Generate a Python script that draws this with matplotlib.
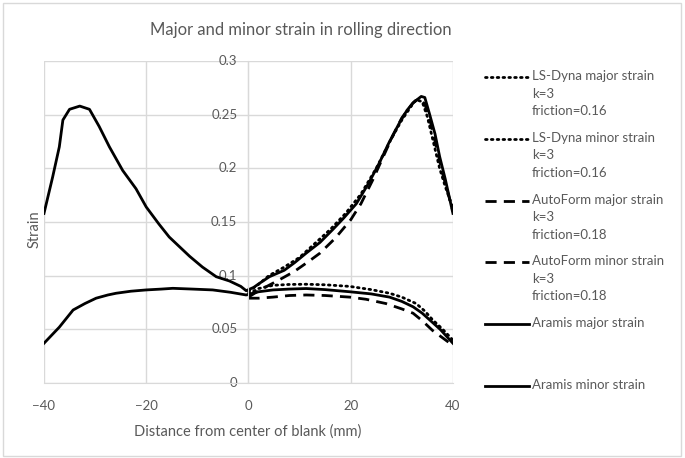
import matplotlib as mpl
mpl.use('Agg')
import matplotlib.pyplot as plt
from matplotlib.lines import Line2D
from matplotlib.patches import Rectangle

plt.rcParams['font.family'] = ['Lato', 'DejaVu Sans']

# Aramis measurement, both sides of the blank
aramis_x_major = [-40, -38.3, -37, -36.3, -35, -33, -31.1, -29.2, -27.2, -24.6, -22, -20,
                  -17.5, -15.5, -13.5, -11.5, -9, -6.3, -3.7, -1.5, -0.45, 1, 2.2, 4.1,
                  7, 9, 11.3, 14, 16.5, 18.5, 21.1, 23.5, 25.6, 27.5, 29.5, 31, 32.2, 33,
                  33.8, 34.5, 35.4, 36.5, 37.4, 38.5, 40]
aramis_major = [0.158, 0.192, 0.22, 0.245, 0.255, 0.258, 0.255, 0.239, 0.220, 0.198, 0.181,
                0.164, 0.148, 0.136, 0.127, 0.118, 0.108, 0.099, 0.095, 0.090, 0.086, 0.089,
                0.093, 0.099, 0.105, 0.112, 0.121, 0.131, 0.143, 0.153, 0.167, 0.186, 0.205,
                0.224, 0.242, 0.254, 0.261, 0.264, 0.267, 0.266, 0.251, 0.232, 0.211, 0.190,
                0.158]
aramis_x_minor = [-40, -37, -34.3, -32, -29.8, -27.5, -25.9, -23, -20, -17, -14.8, -11, -7,
                  -3.5, -0.45, 2, 4.8, 8, 11.3, 15, 19.8, 24, 27.6, 30, 32.2, 34, 35.4,
                  37.5, 40]
aramis_minor = [0.037, 0.052, 0.068, 0.074, 0.079, 0.082, 0.0836, 0.0855, 0.0867, 0.0875,
                0.0882, 0.0875, 0.0867, 0.0845, 0.082, 0.085, 0.0867, 0.0875, 0.088, 0.087,
                0.085, 0.083, 0.080, 0.076, 0.071, 0.065, 0.059, 0.050, 0.037]

# LS-Dyna simulation (k=3, friction=0.16)
lsd_x_major = [0, 2, 4, 7, 10, 13, 16, 19, 22, 25, 28, 30, 32, 32.8, 34, 35, 36, 37.4, 38.5, 40]
lsd_major = [0.085, 0.092, 0.100, 0.108, 0.117, 0.130, 0.143, 0.158, 0.176, 0.200, 0.228,
             0.245, 0.259, 0.264, 0.262, 0.248, 0.228, 0.200, 0.183, 0.163]
lsd_x_minor = [0, 2, 4.8, 8, 11.3, 15, 19.8, 24, 27.6, 30, 32.8, 34.5, 36, 38, 40]
lsd_minor = [0.083, 0.088, 0.091, 0.0918, 0.092, 0.0915, 0.090, 0.087, 0.0836, 0.080, 0.074,
             0.067, 0.059, 0.050, 0.040]

# AutoForm simulation (k=3, friction=0.18)
af_x_major = [0, 2, 4, 6, 9, 12, 14, 17, 20, 22, 24.3, 26, 28.2, 30, 32.2, 33.3, 34.5, 35.5,
              36.5, 38, 40]
af_major = [0.080, 0.086, 0.091, 0.096, 0.104, 0.114, 0.121, 0.135, 0.152, 0.167, 0.189,
            0.207, 0.230, 0.247, 0.261, 0.265, 0.260, 0.245, 0.225, 0.195, 0.160]
af_x_minor = [0, 2, 4.8, 8, 11.3, 15, 19.8, 23, 26.9, 30, 32.2, 34, 36, 38, 40]
af_minor = [0.079, 0.079, 0.080, 0.0815, 0.082, 0.0815, 0.080, 0.078, 0.074, 0.069, 0.065,
            0.058, 0.049, 0.042, 0.035]

x_ticks = [-40, -20, 0, 20, 40]
y_ticks = [0, 0.05, 0.1, 0.15, 0.2, 0.25, 0.3]
y_labels = ['0', '0.05', '0.1', '0.15', '0.2', '0.25', '0.3']

legend_labels = ['LS-Dyna major strain\nk=3\nfriction=0.16',
                 'LS-Dyna minor strain\nk=3\nfriction=0.16',
                 'AutoForm major strain\nk=3\nfriction=0.18',
                 'AutoForm minor strain\nk=3\nfriction=0.18',
                 'Aramis major strain',
                 'Aramis minor strain']

gray = '#595959'
grid_c = '#d9d9d9'
dot = dict(color='black', lw=2.0, ls=(0, (0.6, 1.5)), dash_capstyle='round')
dash = dict(color='black', lw=2.0, ls=(0, (4.0, 2.6)))
solid = dict(color='black', lw=2.0, ls='-')

fig = plt.figure(figsize=(6.85, 4.58), dpi=100)
ax = fig.add_axes([0.0642, 0.1638, 0.597, 0.703])

ax.plot(lsd_x_major, lsd_major, **dot)
ax.plot(lsd_x_minor, lsd_minor, **dot)
ax.plot(af_x_major, af_major, **dash)
ax.plot(af_x_minor, af_minor, **dash)
ax.plot(aramis_x_major, aramis_major, **solid)
ax.plot(aramis_x_minor, aramis_minor, **solid)

ax.set_xlim(-40, 40)
ax.set_ylim(0, 0.3)
ax.set_xticks(x_ticks)
ax.set_yticks(y_ticks)
ax.set_yticklabels(y_labels)
ax.grid(True, color=grid_c, lw=1)
ax.set_axisbelow(True)
for s in ['top', 'right']:
    ax.spines[s].set_visible(False)
ax.spines['left'].set_position(('data', 0))
ax.spines['left'].set_color(grid_c)
ax.spines['bottom'].set_color(grid_c)
ax.tick_params(length=0, colors=gray, labelsize=9.5)
ax.tick_params(axis='x', pad=12)
ax.tick_params(axis='y', pad=8)
for t in ax.get_yticklabels():
    t.set_va('center')

fig.text(0.050, 0.5, 'Strain', rotation=90, color=gray, fontsize=10.5, ha='center', va='center')
fig.text(248 / 685, 1 - 432 / 458, 'Distance from center of blank (mm)', color=gray,
         fontsize=10.5, ha='center', va='center')
fig.text(301 / 685, 1 - 30 / 458, 'Major and minor strain in rolling direction', color=gray,
         fontsize=12, ha='center', va='center')

# legend, Excel style: handle on the first text line
styles = [dot, dot, dash, dash, solid, solid]
for i, (lab, st) in enumerate(zip(legend_labels, styles)):
    yp = 77 + i * 61.8
    yf = 1 - yp / 458
    fig.add_artist(Line2D([485 / 685, 529 / 685], [yf, yf], transform=fig.transFigure, **st))
    fig.text(532 / 685, 1 - (yp - 7) / 458, lab, color=gray, fontsize=9.5, ha='left', va='top',
             linespacing=1.55)

fig.add_artist(Rectangle((0.004, 0.004), 0.99, 0.99, transform=fig.transFigure,
                         fill=False, ec=grid_c, lw=1))

fig.savefig('out.png', dpi=100)
